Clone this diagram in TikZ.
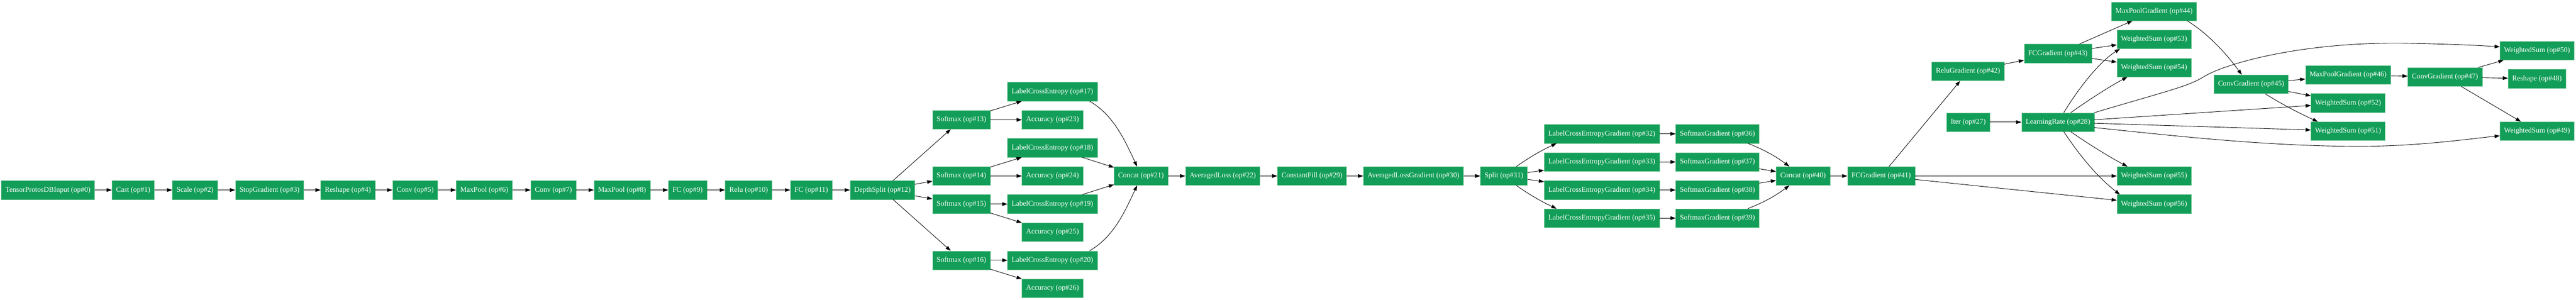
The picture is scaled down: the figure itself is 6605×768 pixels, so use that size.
\documentclass[tikz,border=0pt]{standalone}
\usepackage{fontspec}
\setmainfont{Liberation Serif}
\usetikzlibrary{positioning}
\usetikzlibrary{arrows.meta,calc}
\definecolor{opgreen}{RGB}{18,158,88}
\definecolor{oprim}{RGB}{110,196,146}
\newcommand{\opfont}{\fontsize{14pt}{16pt}\selectfont}

\begin{document}
\begin{tikzpicture}[x=0.75pt, y=-0.75pt,
  op/.style={rectangle, fill=opgreen, draw=oprim, line width=0.5pt, text=white, font=\opfont,
    minimum height=36pt, minimum width=54pt, inner xsep=7.9pt, inner ysep=0pt},
  flow/.style={-{Triangle[length=10pt,width=7pt]}, line width=0.9pt}]

\useasboundingbox (0,0) rectangle (6605,768);

% Forward pass

\node[op] (op0) at (123,487) {TensorProtosDBInput (op\#0)};

\node[op] (op1) at (341.5,487) {Cast (op\#1)};

\node[op] (op2) at (500,487) {Scale (op\#2)};

\node[op] (op3) at (691,487) {StopGradient (op\#3)};

\node[op] (op4) at (892,487) {Reshape (op\#4)};

\node[op] (op5) at (1064.5,487) {Conv (op\#5)};

\node[op] (op6) at (1241.5,487) {MaxPool (op\#6)};

\node[op] (op7) at (1419,487) {Conv (op\#7)};

\node[op] (op8) at (1595,487) {MaxPool (op\#8)};

\node[op] (op9) at (1763,487) {FC (op\#9)};

\node[op] (op10) at (1919.5,487) {Relu (op\#10)};

\node[op] (op11) at (2080,487) {FC (op\#11)};

\node[op] (op12) at (2262.5,487) {DepthSplit (op\#12)};

\node[op] (op13) at (2465,307) {Softmax (op\#13)};

\node[op] (op14) at (2465,451) {Softmax (op\#14)};

\node[op] (op15) at (2465,523) {Softmax (op\#15)};

\node[op] (op16) at (2465,667) {Softmax (op\#16)};

\node[op] (op17) at (2698.5,235) {LabelCrossEntropy (op\#17)};

\node[op] (op23) at (2698.5,307) {Accuracy (op\#23)};

\node[op] (op18) at (2698.5,379) {LabelCrossEntropy (op\#18)};

\node[op] (op24) at (2698.5,451) {Accuracy (op\#24)};

\node[op] (op19) at (2698.5,523) {LabelCrossEntropy (op\#19)};

\node[op] (op25) at (2698.5,595) {Accuracy (op\#25)};

\node[op] (op20) at (2698.5,667) {LabelCrossEntropy (op\#20)};

\node[op] (op26) at (2698.5,739) {Accuracy (op\#26)};

\node[op] (op21) at (2925.5,451) {Concat (op\#21)};

\node[op] (op22) at (3135,451) {AveragedLoss (op\#22)};


% Backward pass

\node[op] (op29) at (3364,451) {ConstantFill (op\#29)};

\node[op] (op30) at (3624,451) {AveragedLossGradient (op\#30)};

\node[op] (op31) at (3856,451) {Split (op\#31)};

\node[op] (op32) at (4107,343) {LabelCrossEntropyGradient (op\#32)};

\node[op] (op33) at (4107,415) {LabelCrossEntropyGradient (op\#33)};

\node[op] (op34) at (4107,487) {LabelCrossEntropyGradient (op\#34)};

\node[op] (op35) at (4107,559) {LabelCrossEntropyGradient (op\#35)};

\node[op] (op36) at (4403.5,343) {SoftmaxGradient (op\#36)};

\node[op] (op37) at (4403.5,415) {SoftmaxGradient (op\#37)};

\node[op] (op38) at (4403.5,487) {SoftmaxGradient (op\#38)};

\node[op] (op39) at (4403.5,559) {SoftmaxGradient (op\#39)};

\node[op] (op40) at (4623,451) {Concat (op\#40)};

\node[op] (op41) at (4823.5,451) {FCGradient (op\#41)};

\node[op] (op42) at (5046,183) {ReluGradient (op\#42)};

\node[op] (op43) at (5276.5,137) {FCGradient (op\#43)};

\node[op] (op44) at (5523,29) {MaxPoolGradient (op\#44)};

\node[op] (op45) at (5772,216) {ConvGradient (op\#45)};

\node[op] (op46) at (6020.5,192) {MaxPoolGradient (op\#46)};

\node[op] (op47) at (6269,197) {ConvGradient (op\#47)};

\node[op] (op48) at (6505,202) {Reshape (op\#48)};


% Parameter updates

\node[op] (op27) at (5046.5,313) {Iter (op\#27)};

\node[op] (op28) at (5276.5,313) {LearningRate (op\#28)};

\node[op] (op53) at (5523,101) {WeightedSum (op\#53)};

\node[op] (op54) at (5523,173) {WeightedSum (op\#54)};

\node[op] (op55) at (5523,451) {WeightedSum (op\#55)};

\node[op] (op56) at (5523,523) {WeightedSum (op\#56)};

\node[op] (op52) at (6020.5,264) {WeightedSum (op\#52)};

\node[op] (op51) at (6020.5,336) {WeightedSum (op\#51)};

\node[op] (op50) at (6505,130) {WeightedSum (op\#50)};

\node[op] (op49) at (6505,336) {WeightedSum (op\#49)};


% Edges, forward

\draw[flow] (op0) -- (op1);
\draw[flow] (op1) -- (op2);
\draw[flow] (op2) -- (op3);
\draw[flow] (op3) -- (op4);
\draw[flow] (op4) -- (op5);
\draw[flow] (op5) -- (op6);
\draw[flow] (op6) -- (op7);
\draw[flow] (op7) -- (op8);
\draw[flow] (op8) -- (op9);
\draw[flow] (op9) -- (op10);
\draw[flow] (op10) -- (op11);
\draw[flow] (op11) -- (op12);

\draw[flow] (op12) -- (op13);
\draw[flow] (op12) -- (op14);
\draw[flow] (op12) -- (op15);
\draw[flow] (op12) -- (op16);

\draw[flow] (op13) -- (op17);
\draw[flow] (op13) -- (op23);
\draw[flow] (op14) -- (op18);
\draw[flow] (op14) -- (op24);
\draw[flow] (op15) -- (op19);
\draw[flow] (op15) -- (op25);
\draw[flow] (op16) -- (op20);
\draw[flow] (op16) -- (op26);

\draw[flow] ($(op17.south east)+(-20,0)$) .. controls +(60,35) and +(-34,-73) .. ($(op21.north)+(-10,0)$);
\draw[flow] (op18) -- (op21);
\draw[flow] (op19) -- (op21);
\draw[flow] ($(op20.north east)+(-20,0)$) .. controls +(60,-35) and +(-34,73) .. ($(op21.south)+(-10,0)$);

\draw[flow] (op21) -- (op22);
\draw[flow] (op22) -- (op29);

% Edges, backward

\draw[flow] (op29) -- (op30);
\draw[flow] (op30) -- (op31);

\draw[flow] ($(op31.north)+(32,0)$) .. controls +(40,-28) and +(-36,17) .. ($(op32.south west)+(32,0)$);
\draw[flow] (op31) -- (op33);
\draw[flow] (op31) -- (op34);
\draw[flow] ($(op31.south)+(32,0)$) .. controls +(40,28) and +(-36,-17) .. ($(op35.north west)+(32,0)$);

\draw[flow] (op32) -- (op36);
\draw[flow] (op33) -- (op37);
\draw[flow] (op34) -- (op38);
\draw[flow] (op35) -- (op39);

\draw[flow] ($(op36.south)+(78,0)$) .. controls +(45,18) and +(-35,-26) .. ($(op40.north)+(-35,0)$);
\draw[flow] (op37) -- (op40);
\draw[flow] (op38) -- (op40);
\draw[flow] ($(op39.north)+(78,0)$) .. controls +(45,-18) and +(-35,26) .. ($(op40.south)+(-35,0)$);

\draw[flow] (op40) -- (op41);

\draw[flow] (op41) -- (op42);
\draw[flow] (op41) -- (op55);
\draw[flow] (op41) -- (op56);

\draw[flow] (op42) -- (op43);

\draw[flow] (op43) -- (op44);
\draw[flow] (op43) -- (op53);
\draw[flow] (op43) -- (op54);

\draw[flow] ($(op44.south)+(85,0)$) .. controls +(50,30) and +(-40,-55) .. ($(op45.north)+(-24,0)$);

\draw[flow] (op45) -- (op46);
\draw[flow] (op45) -- (op52);
\draw[flow] ($(op45.south)+(36,0)$) .. controls +(45,28) and +(-45,-20) .. ($(op51.north west)+(18,0)$);

\draw[flow] (op46) -- (op47);

\draw[flow] (op47) -- (op50);
\draw[flow] (op47) -- (op48);
\draw[flow] (op47) -- (op49);

% Edges, updates

\draw[flow] (op27) -- (op28);

\draw[flow] ($(op28.north)+(15,0)$) .. controls +(40,-66) and +(-50,31) .. ($(op53.south west)+(8,0)$);
\draw[flow] ($(op28.north)+(33,0)$) .. controls +(45,-32) and +(-45,24) .. ($(op54.south west)+(27,0)$);
\draw[flow] ($(op28.south)+(33,0)$) .. controls +(45,32) and +(-45,-24) .. ($(op55.north west)+(27,0)$);
\draw[flow] ($(op28.south)+(15,0)$) .. controls +(50,75) and +(-50,-39) .. ($(op56.north west)+(8,0)$);

\draw[flow] (op28.north east) .. controls (5550,235) and (5610,222) .. (5650,197)
            .. controls (5700,165) and (5900,105) .. (6180,111)
            .. controls (6280,113) and (6350,116) .. ($(op50.west)+(0,-10)$);
\draw[flow] (op28) -- (op52);
\draw[flow] (op28) -- (op51);
\draw[flow] ($(op28.east)+(0,14)$) .. controls (5550,345) and (5800,375) .. (6050,375)
            .. controls (6200,375) and (6330,356) .. ($(op49.west)+(0,12)$);

\end{tikzpicture}
\end{document}
